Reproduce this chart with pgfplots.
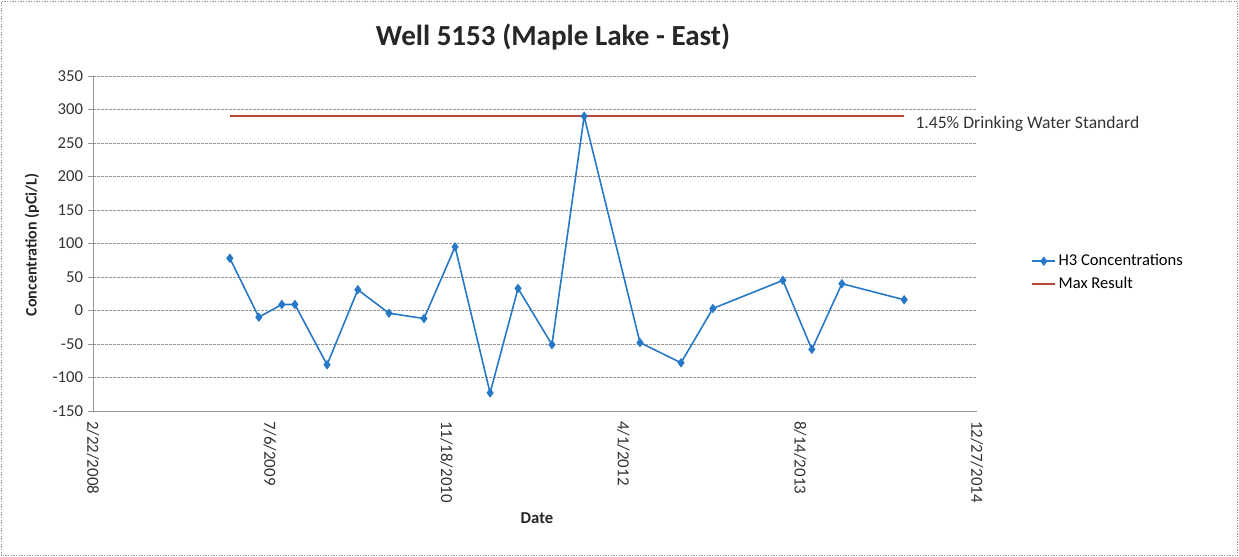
\documentclass[border=0pt]{standalone}
\usepackage{pgfplots}
\pgfplotsset{compat=1.18}
\usepackage{fontspec}
\setmainfont{Carlito}

\definecolor{hthree}{RGB}{40,120,200}
\definecolor{maxred}{RGB}{180,70,55}
\definecolor{gridgray}{RGB}{150,150,150}

\begin{document}
\begin{tikzpicture}
% frame of the whole chart, 1239 x 557 px at 0.75pt per px
\useasboundingbox (0,0) rectangle (929.25pt,417.75pt);
\draw[gridgray, dash pattern=on 1pt off 1pt] (1pt,1pt) rectangle (928.25pt,416.75pt);

\begin{axis}[
  at={(69.75pt,109.5pt)}, anchor=south west,
  scale only axis,
  width=663pt, height=251.25pt,
  xmin=39500, xmax=42000,
  ymin=-150, ymax=350,
  scaled x ticks=false,
  xtick={39500,40000,40500,41000,41500,42000},
  xticklabels={2/22/2008,7/6/2009,11/18/2010,4/1/2012,8/14/2013,12/27/2014},
  x tick label style={rotate=-90, anchor=west, font=\fontsize{12.7}{14}\selectfont, text=black!80},
  x tick style={draw=none},
  ytick={-150,-100,...,350},
  y tick label style={font=\fontsize{12.5}{14}\selectfont, text=black!80},
  /pgf/number format/assume math mode=true,
  axis x line=bottom, axis y line=left,
  axis line style={gridgray, -},
  tick align=outside, y tick style={gridgray, thin},
  major tick length=4pt,
  ymajorgrids,
  major grid style={gridgray, dash pattern=on 2pt off 1pt},
  legend style={at={(1.06,0.413)}, anchor=west, draw=none, fill=none,
    font=\fontsize{12.4}{14}\selectfont, row sep=3pt, inner sep=1pt},
  legend cell align=left,
  clip=false,
]
\addplot[hthree, line width=1.2pt, mark=diamond*, mark size=2.6pt,
  mark options={fill=hthree, draw=hthree}] coordinates {
  (39887,78) (39969,-10) (40034,9) (40071,9) (40162,-81)
  (40249,31) (40337,-4) (40436,-12) (40524,95) (40623,-123)
  (40702,33) (40798,-51) (40889,290) (41047,-48) (41163,-78)
  (41253,3) (41451,45) (41533,-58) (41618,40) (41794,16)
};
\addlegendentry{H3 Concentrations}
\addplot[maxred, line width=1.2pt] coordinates {(39887,290) (41794,290)};
\addlegendentry{Max Result}
\node[anchor=west, font=\fontsize{13.2}{15}\selectfont, text=black!80]
  at (axis cs:41794,290) [xshift=5pt, yshift=-6pt] {1.45\% Drinking Water Standard};
\end{axis}

\node[font=\fontsize{21.8}{25}\selectfont\bfseries, text=black!85] at (414.75pt,390pt) {Well 5153 (Maple Lake - East)};
\node[rotate=90, font=\fontsize{12}{14}\selectfont\bfseries, text=black!85] at (24pt,234pt) {Concentration (pCi/L)};
\node[font=\fontsize{12.5}{14}\selectfont\bfseries, text=black!85] at (402.75pt,29.25pt) {Date};
\end{tikzpicture}
\end{document}
